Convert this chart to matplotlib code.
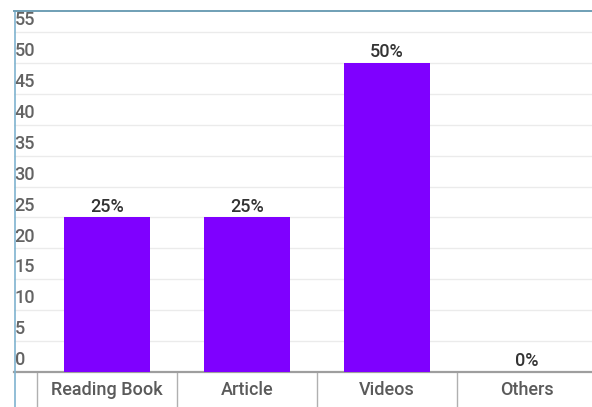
import matplotlib
matplotlib.use("Agg")
import matplotlib.pyplot as plt
from matplotlib.lines import Line2D

categories = ["Reading Book", "Article", "Videos", "Others"]
values = [25, 25, 50, 0]
labels = ["25%", "25%", "50%", "0%"]
yticks = [0, 5, 10, 15, 20, 25, 30, 35, 40, 45, 50, 55]

plt.rcParams['font.family'] = ['Roboto', 'DejaVu Sans']

W, H = 592, 407
fig = plt.figure(figsize=(W / 100, H / 100), dpi=100)
fig.patch.set_facecolor("white")

# plot area in pixels: left 14, top 11, baseline 372
ax = fig.add_axes([14 / W, (H - 372) / H, 1 - 14 / W, 361 / H])
x = list(range(len(categories)))
ax.bar(x, values, width=0.61, color="#7f00ff", zorder=3)
ax.set_xlim(-0.664, 3.464)
ax.set_ylim(0, 58.4)

for t in yticks:
    ax.axhline(t, color="#ebebeb", lw=1, zorder=1)
    ax.annotate(str(t), (0, t), xycoords=ax.get_yaxis_transform(),
                xytext=(0.5, 2), textcoords="offset points",
                ha="left", va="bottom", fontsize=13, fontweight="medium",
                color="#636363")

for xi, v, lab in zip(x, values, labels):
    ax.annotate(lab, (xi, v), xytext=(0, 1.2), textcoords="offset points",
                ha="center", va="bottom", fontsize=13, fontweight="medium",
                color="#333333", zorder=4)

for s in ["top", "right", "left"]:
    ax.spines[s].set_visible(False)
ax.spines["bottom"].set_color("#9e9e9e")
ax.spines["bottom"].set_linewidth(1.6)
ax.set_xticks([])
ax.set_yticks([])

# category separators and labels below the baseline
tr = ax.get_xaxis_transform()
for b in [-0.5, 0.5, 1.5, 2.5, 3.5]:
    ax.plot([b, b], [0, -0.1], transform=tr, color="#b0b0b0", lw=1, clip_on=False)
for xi, c in zip(x, categories):
    ax.text(xi, -0.05, c, transform=tr, ha="center", va="center",
            fontsize=13, fontweight="medium", color="#5a5a5a")

# outer frame (left and top)
fig.add_artist(Line2D([14.5 / W, 14.5 / W], [0, 1 - 11 / H], color="#7fb3cf", lw=1.2))
fig.add_artist(Line2D([14 / W, 1], [1 - 11 / H, 1 - 11 / H], color="#6f9fb5", lw=1.4))

fig.savefig("out.png", dpi=100)
